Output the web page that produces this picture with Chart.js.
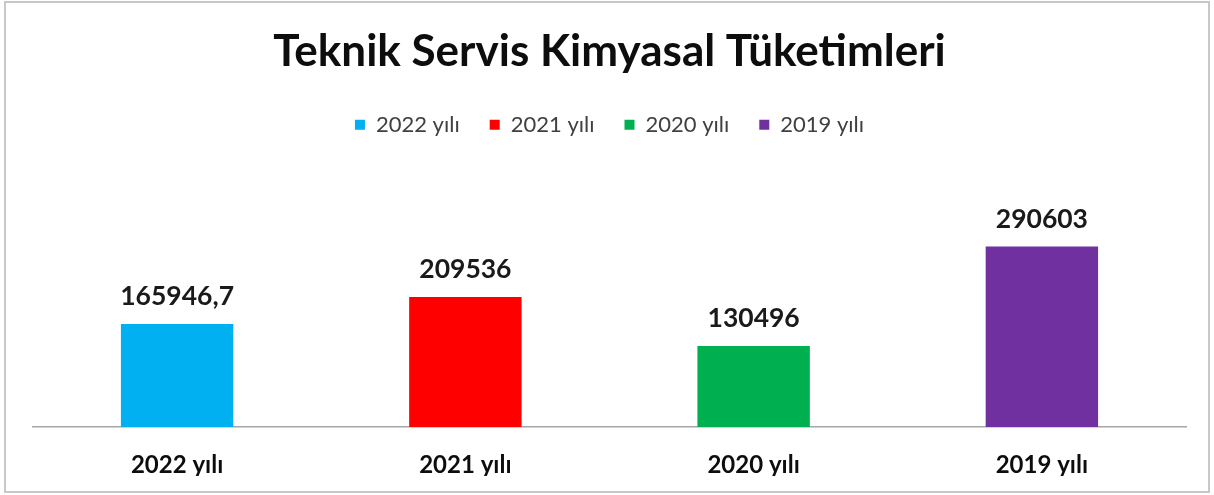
<!DOCTYPE html>
<html lang="tr">
<head>
  <meta charset="UTF-8" />
  <title>Teknik Servis Kimyasal Tüketimleri</title>
  <script src="https://cdn.jsdelivr.net/npm/chart.js"></script>
  <style>
    html, body { margin: 0; padding: 0; background: #fff; }
    #wrap { width: 1214px; height: 495px; }
  </style>
</head>
<body>
  <div id="wrap"><canvas id="chart" width="1214" height="495"></canvas></div>

  <script>
    const categories = ["2022 yılı", "2021 yılı", "2020 yılı", "2019 yılı"];
    const values = [165946.7, 209536, 130496, 290603];
    const colors = ["#00B0F0", "#FF0000", "#00B050", "#7030A0"];

    // one dataset per year so the legend shows each; nulls elsewhere
    const datasets = categories.map((name, i) => ({
      label: name,
      data: categories.map((c, j) => (j === i ? values[i] : null)),
      backgroundColor: colors[i],
      borderWidth: 0,
      skipNull: true,
      categoryPercentage: 1,
      barPercentage: 0.39
    }));

    const frame = {
      id: "frame",
      beforeDraw(chart) {
        const c = chart.ctx;
        c.save();
        c.fillStyle = "#fff";
        c.fillRect(0, 0, chart.width, chart.height);
        c.strokeStyle = "#c8c8c8";
        c.lineWidth = 2;
        c.strokeRect(5, 2, 1204, 490);
        c.restore();
      }
    };

    const valueLabels = {
      id: "valueLabels",
      afterDatasetsDraw(chart) {
        const c = chart.ctx;
        c.save();
        c.font = "bold 26.5px Lato";
        c.fillStyle = "#1a1a1a";
        c.textAlign = "center";
        c.textBaseline = "bottom";
        chart.data.datasets.forEach((ds, i) => {
          chart.getDatasetMeta(i).data.forEach((bar, j) => {
            const v = ds.data[j];
            if (v == null) return;
            c.fillText(String(v).replace(".", ","), bar.x, bar.y - 14);
          });
        });
        c.restore();
      }
    };

    new Chart(document.getElementById("chart"), {
      type: "bar",
      data: { labels: categories, datasets: datasets },
      plugins: [frame, valueLabels],
      options: {
        responsive: false,
        animation: false,
        layout: { padding: { top: 18, left: 33, right: 28, bottom: 19 } },
        plugins: {
          title: {
            display: true,
            text: "Teknik Servis Kimyasal Tüketimleri",
            color: "#0d0d0d",
            font: { family: "Lato", size: 44, weight: "bold", lineHeight: 1.2 },
            padding: { top: 7, bottom: 6 }
          },
          legend: {
            labels: {
              boxWidth: 10,
              boxHeight: 10,
              padding: 30,
              color: "#404040",
              font: { family: "Lato", size: 22 }
            }
          },
          tooltip: { enabled: false }
        },
        scales: {
          x: {
            grid: { display: false, drawTicks: false },
            border: { display: true, color: "#a6a6a6", width: 1.5 },
            afterFit(axis) { axis.height = 49; },
            ticks: {
              padding: 24,
              color: "#0d0d0d",
              font: { family: "Lato", size: 24, weight: "bold", lineHeight: 1.2 }
            }
          },
          y: {
            display: false,
            min: 0,
            max: 453000
          }
        }
      }
    });
  </script>
</body>
</html>
